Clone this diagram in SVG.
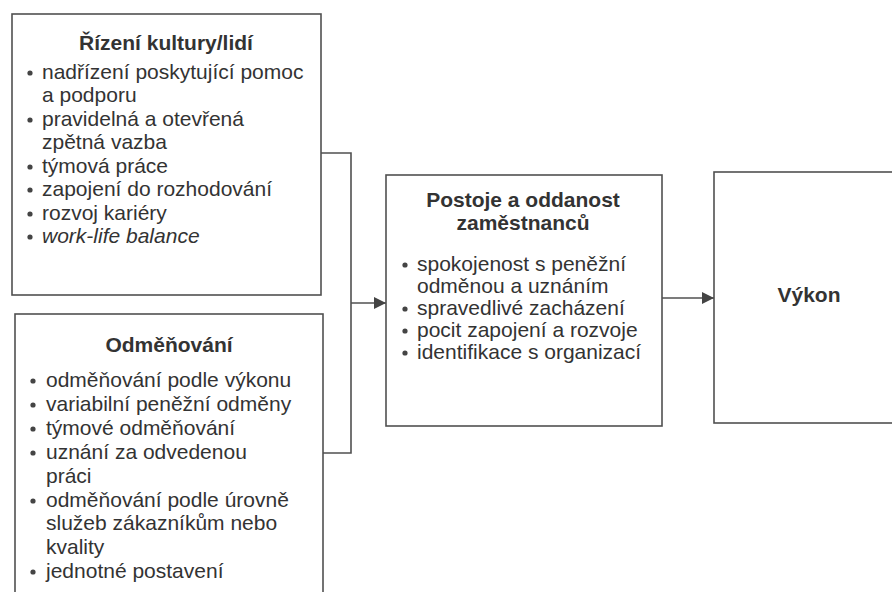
<svg xmlns="http://www.w3.org/2000/svg" width="892" height="592" viewBox="0 0 892 592">
<style>
.box{fill:#fff;stroke:#505050;stroke-width:1.6}
.t{font-family:"Liberation Sans",Arial,sans-serif;font-size:21px;fill:#333}
.h{font-weight:bold;text-anchor:middle}
.b{fill:#444}
.c{fill:none;stroke:#505050;stroke-width:1.6}
</style>
<defs>
<marker id="ah" markerWidth="12" markerHeight="12" refX="12" refY="6" orient="auto" markerUnits="userSpaceOnUse">
<path d="M0,0 L12,6 L0,12 Z" fill="#444"/>
</marker>
</defs>
<rect width="892" height="592" fill="#fff"/>
<g id="connectors">
<path class="c" d="M321,153 H351 V453 H323"/>
<line class="c" x1="351" y1="303" x2="386" y2="303" marker-end="url(#ah)"/>
<line class="c" x1="662" y1="298" x2="714" y2="298" marker-end="url(#ah)"/>
</g>
<g id="rizeni">
<rect class="box" x="12" y="14" width="309" height="281"/>
<text class="t h" x="166" y="50">Řízení kultury/lidí</text>
<circle class="b" cx="30" cy="73" r="2.6"/>
<circle class="b" cx="30" cy="120" r="2.6"/>
<circle class="b" cx="30" cy="167" r="2.6"/>
<circle class="b" cx="30" cy="190" r="2.6"/>
<circle class="b" cx="30" cy="214" r="2.6"/>
<circle class="b" cx="30" cy="237" r="2.6"/>
<text class="t" x="42" y="79">nadřízení poskytující pomoc</text>
<text class="t" x="42" y="102">a podporu</text>
<text class="t" x="42" y="126">pravidelná a otevřená</text>
<text class="t" x="42" y="149">zpětná vazba</text>
<text class="t" x="42" y="173">týmová práce</text>
<text class="t" x="42" y="196">zapojení do rozhodování</text>
<text class="t" x="42" y="220">rozvoj kariéry</text>
<text class="t" x="42" y="243" font-style="italic">work-life balance</text>
</g>
<g id="odmenovani">
<rect class="box" x="15" y="314" width="308" height="300"/>
<text class="t h" x="169" y="352">Odměňování</text>
<circle class="b" cx="33" cy="381" r="2.6"/>
<circle class="b" cx="33" cy="405" r="2.6"/>
<circle class="b" cx="33" cy="429" r="2.6"/>
<circle class="b" cx="33" cy="453" r="2.6"/>
<circle class="b" cx="33" cy="501" r="2.6"/>
<circle class="b" cx="33" cy="572" r="2.6"/>
<text class="t" x="46" y="387">odměňování podle výkonu</text>
<text class="t" x="46" y="411">variabilní peněžní odměny</text>
<text class="t" x="46" y="435">týmové odměňování</text>
<text class="t" x="46" y="459">uznání za odvedenou</text>
<text class="t" x="46" y="483">práci</text>
<text class="t" x="46" y="507">odměňování podle úrovně</text>
<text class="t" x="46" y="530">služeb zákazníkům nebo</text>
<text class="t" x="46" y="554">kvality</text>
<text class="t" x="46" y="578">jednotné postavení</text>
</g>
<g id="postoje">
<rect class="box" x="386" y="175" width="276" height="251"/>
<text class="t h" x="523" y="207">Postoje a oddanost</text>
<text class="t h" x="523" y="230">zaměstnanců</text>
<circle class="b" cx="405" cy="265" r="2.6"/>
<circle class="b" cx="405" cy="309" r="2.6"/>
<circle class="b" cx="405" cy="331" r="2.6"/>
<circle class="b" cx="405" cy="353" r="2.6"/>
<text class="t" x="417" y="271">spokojenost s peněžní</text>
<text class="t" x="417" y="293">odměnou a uznáním</text>
<text class="t" x="417" y="315">spravedlivé zacházení</text>
<text class="t" x="417" y="337">pocit zapojení a rozvoje</text>
<text class="t" x="417" y="359">identifikace s organizací</text>
</g>
<g id="vykon">
<rect class="box" x="714" y="172" width="200" height="251"/>
<text class="t h" x="809" y="302">Výkon</text>
</g>
</svg>
